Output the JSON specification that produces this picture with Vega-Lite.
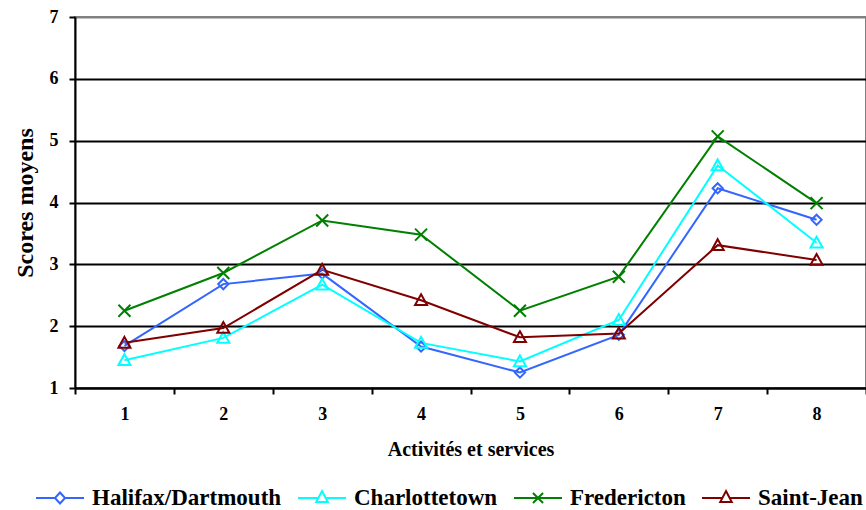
{
  "$schema": "https://vega.github.io/schema/vega-lite/v6.json",
  "width": 791,
  "height": 371,
  "autosize": {"type": "none"},
  "padding": {"left": 75, "top": 17, "right": 0, "bottom": 122},
  "background": "white",
  "config": {
    "font": "Liberation Serif",
    "view": {"stroke": "#808080", "strokeWidth": 2},
    "axis": {
      "labelFont": "Liberation Serif",
      "titleFont": "Liberation Serif",
      "labelFontWeight": "bold",
      "titleFontWeight": "bold",
      "labelColor": "black",
      "titleColor": "black",
      "domainColor": "black",
      "domainWidth": 2,
      "tickColor": "black",
      "tickWidth": 2,
      "tickSize": 6
    },
    "legend": {
      "labelFont": "Liberation Serif",
      "labelFontWeight": "bold",
      "labelColor": "black",
      "labelLimit": 400
    }
  },
  "data": {
    "values": [
      {"serie": "Halifax/Dartmouth", "activite": 1, "score": 1.68},
      {"serie": "Halifax/Dartmouth", "activite": 2, "score": 2.68},
      {"serie": "Halifax/Dartmouth", "activite": 3, "score": 2.85},
      {"serie": "Halifax/Dartmouth", "activite": 4, "score": 1.67},
      {"serie": "Halifax/Dartmouth", "activite": 5, "score": 1.25},
      {"serie": "Halifax/Dartmouth", "activite": 6, "score": 1.86},
      {"serie": "Halifax/Dartmouth", "activite": 7, "score": 4.23},
      {"serie": "Halifax/Dartmouth", "activite": 8, "score": 3.72},
      {"serie": "Charlottetown", "activite": 1, "score": 1.45},
      {"serie": "Charlottetown", "activite": 2, "score": 1.81},
      {"serie": "Charlottetown", "activite": 3, "score": 2.67},
      {"serie": "Charlottetown", "activite": 4, "score": 1.73},
      {"serie": "Charlottetown", "activite": 5, "score": 1.43},
      {"serie": "Charlottetown", "activite": 6, "score": 2.10},
      {"serie": "Charlottetown", "activite": 7, "score": 4.60},
      {"serie": "Charlottetown", "activite": 8, "score": 3.35},
      {"serie": "Fredericton", "activite": 1, "score": 2.25},
      {"serie": "Fredericton", "activite": 2, "score": 2.86},
      {"serie": "Fredericton", "activite": 3, "score": 3.71},
      {"serie": "Fredericton", "activite": 4, "score": 3.48},
      {"serie": "Fredericton", "activite": 5, "score": 2.25},
      {"serie": "Fredericton", "activite": 6, "score": 2.80},
      {"serie": "Fredericton", "activite": 7, "score": 5.07},
      {"serie": "Fredericton", "activite": 8, "score": 3.99},
      {"serie": "Saint-Jean", "activite": 1, "score": 1.73},
      {"serie": "Saint-Jean", "activite": 2, "score": 1.97},
      {"serie": "Saint-Jean", "activite": 3, "score": 2.91},
      {"serie": "Saint-Jean", "activite": 4, "score": 2.42},
      {"serie": "Saint-Jean", "activite": 5, "score": 1.82},
      {"serie": "Saint-Jean", "activite": 6, "score": 1.88},
      {"serie": "Saint-Jean", "activite": 7, "score": 3.31},
      {"serie": "Saint-Jean", "activite": 8, "score": 3.07}
    ]
  },
  "encoding": {
    "x": {
      "field": "activite",
      "type": "ordinal",
      "scale": {"type": "band", "paddingInner": 0, "paddingOuter": 0},
      "bandPosition": 0.5,
      "axis": {
        "title": "Activités et services",
        "titleFontSize": 20,
        "titlePadding": 16,
        "labelFontSize": 18,
        "labelAngle": 0,
        "labelPadding": 11,
        "tickBand": "extent",
        "grid": false
      }
    },
    "y": {
      "field": "score",
      "type": "quantitative",
      "scale": {"domain": [1, 7], "nice": false},
      "axis": {
        "title": "Scores moyens",
        "titleFontSize": 24,
        "titlePadding": 12,
        "labelFontSize": 18,
        "labelPadding": 11,
        "values": [1, 2, 3, 4, 5, 6, 7],
        "format": "d",
        "grid": true,
        "gridColor": {"condition": {"test": "datum.value === 7", "value": "#808080"}, "value": "black"},
        "gridWidth": 2
      }
    },
    "color": {
      "field": "serie",
      "type": "nominal",
      "scale": {
        "domain": ["Halifax/Dartmouth", "Charlottetown", "Fredericton", "Saint-Jean"],
        "range": ["#3366FF", "#00FFFF", "#008000", "#800000"]
      },
      "legend": null
    }
  },
  "layer": [
    {
      "mark": {"type": "line", "strokeWidth": 2}
    },
    {
      "mark": {"type": "point", "filled": false, "size": 144, "strokeWidth": 2, "opacity": 1},
      "encoding": {
        "shape": {
          "field": "serie",
          "type": "nominal",
          "scale": {
            "domain": ["Halifax/Dartmouth", "Charlottetown", "Fredericton", "Saint-Jean"],
            "range": [
              "M0,-0.85L0.85,0L0,0.85L-0.85,0Z",
              "M0,-1L1,0.8L-1,0.8Z",
              "M-1,-1L1,1M-1,1L1,-1",
              "M0,-1L1,0.8L-1,0.8Z"
            ]
          },
          "legend": null
        }
      }
    },
    {
      "mark": {"type": "point", "filled": false, "opacity": 0},
      "encoding": {
        "color": {
          "field": "serie",
          "type": "nominal",
          "scale": {
            "domain": ["Halifax/Dartmouth", "Charlottetown", "Fredericton", "Saint-Jean"],
            "range": ["#3366FF", "#00FFFF", "#008000", "#800000"]
          },
          "legend": {
            "title": null,
            "orient": "none",
            "legendX": -40,
            "legendY": 456,
            "direction": "horizontal",
            "labelFontSize": 23,
            "symbolSize": 2304,
            "symbolStrokeWidth": 2,
            "symbolOpacity": 1,
            "labelOffset": 7,
            "columnPadding": 12
          }
        },
        "shape": {
          "field": "serie",
          "type": "nominal",
          "scale": {
            "domain": ["Halifax/Dartmouth", "Charlottetown", "Fredericton", "Saint-Jean"],
            "range": [
              "M-1,0H-0.21M0.21,0H1M0,-0.23L0.21,0L0,0.23L-0.21,0Z",
              "M-1,0H-0.15M0.15,0H1M0,-0.29L0.24,0.17L-0.24,0.17Z",
              "M-1,0H1M-0.21,-0.21L0.21,0.21M-0.21,0.21L0.21,-0.21",
              "M-1,0H-0.15M0.15,0H1M0,-0.29L0.24,0.17L-0.24,0.17Z"
            ]
          },
          "legend": {
            "title": null,
            "orient": "none",
            "legendX": -40,
            "legendY": 456,
            "direction": "horizontal",
            "labelFontSize": 23,
            "symbolSize": 2304,
            "symbolStrokeWidth": 2,
            "symbolOpacity": 1,
            "labelOffset": 7,
            "columnPadding": 12
          }
        }
      }
    }
  ],
  "resolve": {"scale": {"color": "independent", "shape": "independent"}}
}
